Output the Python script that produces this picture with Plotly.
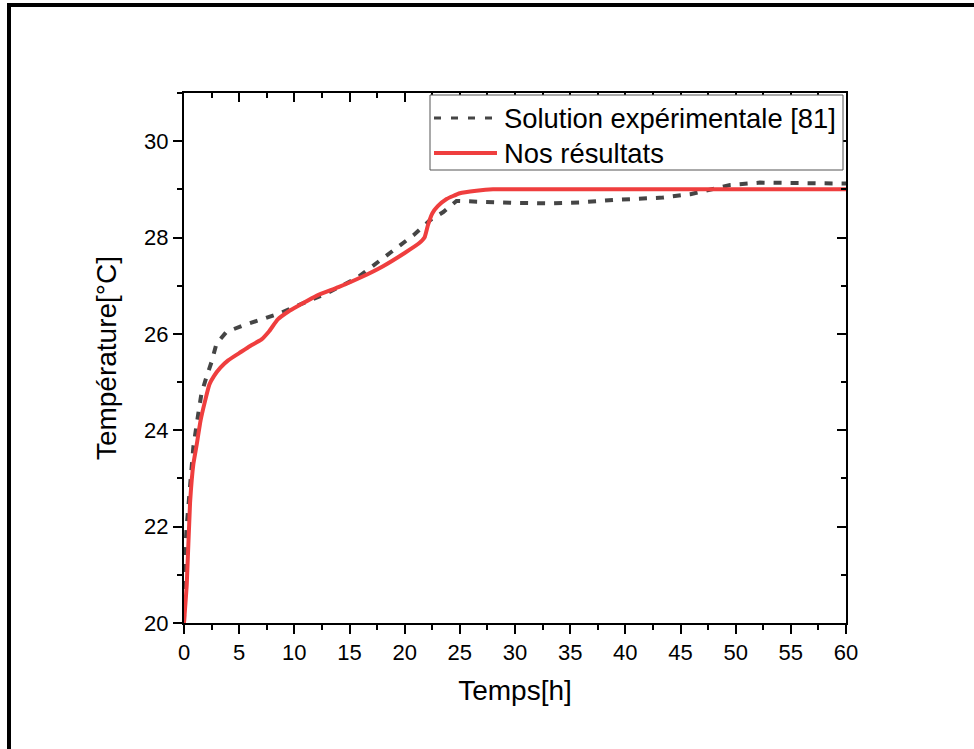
import plotly.graph_objects as go

# ---- data ----
t_exp = [0.0, 0.09, 0.24, 0.54, 0.85, 1.3, 1.58, 2.0, 2.5, 2.95, 3.84, 5.4, 7.2, 8.7, 9.9,
         12.9, 15.6, 18.4, 20.8, 22.3, 23.5, 24.7, 27.0, 29.8, 33.0, 36.0, 38.9, 43.4,
         45.9, 48.0, 49.5, 52.2, 55.0, 58.5, 60.0]
T_exp = [20.0, 21.38, 22.0, 22.83, 23.66, 24.35, 24.76, 25.08, 25.42, 25.8, 26.04, 26.18,
         26.32, 26.43, 26.55, 26.84, 27.15, 27.63, 28.05, 28.36, 28.53, 28.76, 28.74, 28.72,
         28.71, 28.73, 28.78, 28.83, 28.9, 29.0, 29.09, 29.14, 29.13, 29.12, 29.12]

t_num = [0.0, 0.25, 0.55, 0.85, 1.15, 1.5, 1.9, 2.3, 2.7, 3.3, 4.0, 5.0, 6.0, 7.0, 7.7,
         8.5, 9.5, 10.5, 12.0, 14.0, 16.0, 18.0, 20.0, 21.3, 21.8, 22.1, 22.5, 23.0, 23.8,
         25.0, 26.5, 28.0, 40.0, 50.0, 60.0]
T_num = [20.0, 20.8, 22.5, 23.3, 23.7, 24.2, 24.6, 24.95, 25.12, 25.3, 25.45, 25.6, 25.75,
         25.88, 26.05, 26.3, 26.47, 26.6, 26.79, 26.97, 27.17, 27.4, 27.68, 27.88, 28.0,
         28.25, 28.5, 28.65, 28.8, 28.92, 28.97, 29.0, 29.0, 29.0, 29.0]

x_ticks = [0, 5, 10, 15, 20, 25, 30, 35, 40, 45, 50, 55, 60]
y_ticks = [20, 22, 24, 26, 28, 30]

legend_labels = ["Solution expérimentale [81]", "Nos résultats"]
exp_color = "#454545"
num_color = "#EF3E3E"
FONT = "Liberation Sans, Arial, sans-serif"

W, H = 974, 749
L, R, T, B = 184, 128, 93, 126
PW, PH = W - L - R, H - T - B


def px(x):
    return (x - L) / PW


def py(y):
    return (H - B - y) / PH


fig = go.Figure()
fig.add_trace(go.Scatter(x=t_exp, y=T_exp, mode="lines", name=legend_labels[0],
                         line=dict(color=exp_color, width=4, dash="8px,9px"),
                         showlegend=False))
fig.add_trace(go.Scatter(x=t_num, y=T_num, mode="lines", name=legend_labels[1],
                         line=dict(color=num_color, width=4, shape="spline", smoothing=0.4),
                         showlegend=False))

axis_common = dict(showline=True, linecolor="black", linewidth=2, showgrid=False,
                   zeroline=False, tickcolor="black", tickwidth=2)

fig.update_layout(
    width=W, height=H,
    margin=dict(l=L, r=R, t=T, b=B),
    paper_bgcolor="white", plot_bgcolor="white",
    font=dict(family=FONT, color="black"),
    xaxis=dict(range=[0, 60], tickvals=x_ticks, ticks="outside", ticklen=9,
               tickfont=dict(size=22), minor=dict(dtick=2.5, ticks="outside", ticklen=5,
                                                   tickwidth=2, tickcolor="black"),
               title=dict(text="Temps[h]", font=dict(size=28), standoff=16),
               **axis_common),
    yaxis=dict(range=[20, 31], tickvals=y_ticks, ticks="outside", ticklen=9,
               tickfont=dict(size=22), minor=dict(dtick=1, ticks="outside", ticklen=5,
                                                   tickwidth=2, tickcolor="black"),
               title=dict(text="Température[°C]", font=dict(size=28), standoff=19),
               **axis_common),
    xaxis2=dict(range=[0, 60], overlaying="x", side="top", tickvals=x_ticks,
                ticks="inside", ticklen=9, showticklabels=False,
                minor=dict(dtick=2.5, ticks="inside", ticklen=5, tickwidth=2,
                           tickcolor="black"), **axis_common),
    yaxis2=dict(range=[20, 31], overlaying="y", side="right", tickvals=y_ticks,
                ticks="inside", ticklen=9, showticklabels=False,
                minor=dict(dtick=1, ticks="inside", ticklen=5, tickwidth=2,
                           tickcolor="black"), **axis_common),
)
# invisible trace to activate the mirror axes
fig.add_trace(go.Scatter(x=[None], y=[None], xaxis="x2", yaxis="y2", showlegend=False,
                         hoverinfo="skip"))

shapes = []
# outer frame (top and left only)
shapes.append(dict(type="line", xref="paper", yref="paper", x0=px(7), x1=px(990),
                   y0=py(5), y1=py(5), line=dict(color="black", width=4)))
shapes.append(dict(type="line", xref="paper", yref="paper", x0=px(9), x1=px(9),
                   y0=py(3), y1=py(770), line=dict(color="black", width=4)))
# legend box
shapes.append(dict(type="rect", xref="paper", yref="paper", x0=px(430), x1=px(843),
                   y0=py(170), y1=py(95), line=dict(color="#555555", width=1),
                   fillcolor="white", layer="above"))
shapes.append(dict(type="line", xref="paper", yref="paper", x0=px(434), x1=px(497),
                   y0=py(118), y1=py(118), layer="above",
                   line=dict(color=exp_color, width=3, dash="7px,10px")))
shapes.append(dict(type="line", xref="paper", yref="paper", x0=px(434), x1=px(497),
                   y0=py(153), y1=py(153), layer="above",
                   line=dict(color=num_color, width=4)))
fig.update_layout(shapes=shapes)

for lab, yy in zip(legend_labels, [118, 153]):
    fig.add_annotation(xref="paper", yref="paper", x=px(502), y=py(yy), text=lab,
                       showarrow=False, xanchor="left", yanchor="middle",
                       font=dict(size=27.4, family=FONT, color="black"))

fig.write_html("out.html")
